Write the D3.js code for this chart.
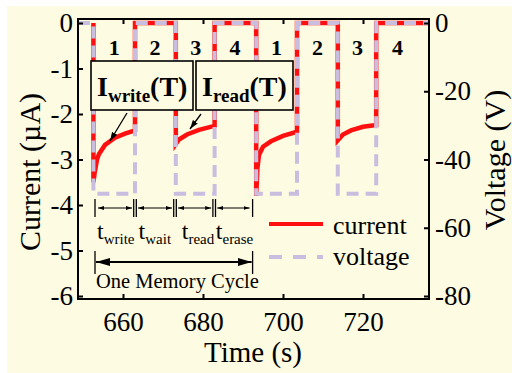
<!DOCTYPE html>
<html><head><meta charset="utf-8">
<script src="https://cdn.jsdelivr.net/npm/d3@7"></script>
<style>
html,body{margin:0;padding:0;background:#fff;}
svg{display:block;}
text{font-family:"Liberation Serif","Times New Roman",serif;fill:#000;}
</style></head><body>
<svg id="c" width="512" height="373"></svg>
<script>
// ---- data ----
const voltage = [
  [648.75,0],[652.6,0],[652.6,-50],[663,-50],[663,0],[673.2,0],[673.2,-50],[682.9,-50],[682.9,0],
  [693.3,0],[693.3,-50],[703.5,-50],[703.5,0],[713.7,0],[713.7,-50],[723.3,-50],[723.3,0],[736.5,0]
];
const current = [
  [652.6,0],[652.6,-3.5],[652.9,-3.3],[653.5,-3.0],[654,-2.88],[655.5,-2.68],[658,-2.52],[660.5,-2.43],[663,-2.36],
  [663,0],[673.2,0],[673.2,-2.66],[674,-2.56],[676,-2.45],[679,-2.35],[682.9,-2.26],
  [682.9,0],[693.3,0],[693.3,-3.8],[693.6,-3.2],[694,-2.9],[695,-2.72],[697,-2.6],[700,-2.48],[703.5,-2.39],
  [703.5,0],[713.7,0],[713.7,-2.58],[715,-2.45],[717,-2.36],[720,-2.28],[723.3,-2.24],
  [723.3,0],[736.5,0]
];
const xTicks = [660,680,700,720];
const yTicks = [0,-1,-2,-3,-4,-5,-6];
const vTicks = [0,-20,-40,-60,-80];
const phaseLabels = [["1",657.8],["2",668],["3",678.2],["4",688],["1",698.4],["2",708.6],["3",718.6],["4",728.6]];
const intervalMarks = [653,663,673,682.8,692.4];
const intervalNames = [["write",653.5],["wait",663.9],["read",674.7],["erase",683.2]];

// ---- layout ----
const svg = d3.select("#c");
const L=78,R=429,T=19,B=299;
const x = d3.scaleLinear().domain([648.75,736.5]).range([L,R]);
const y = d3.scaleLinear().domain([0,-6]).range([23,296]);
const yv = d3.scaleLinear().domain([0,-80]).range([23,296]);
const cream="#fdfbe1", red="#ff1010", lav="#c9bde0";

svg.append("rect").attr("x",7).attr("y",6).attr("width",505).attr("height",367).attr("fill",cream);

const plot = svg.append("g");
plot.append("path").datum(current)
  .attr("d",d3.line().x(d=>x(d[0])).y(d=>y(d[1])))
  .attr("fill","none").attr("stroke",red).attr("stroke-width",4.5).attr("stroke-linejoin","miter");
plot.append("path").datum(voltage)
  .attr("d",d3.line().x(d=>x(d[0])).y(d=>yv(d[1])))
  .attr("fill","none").attr("stroke",lav).attr("stroke-width",4).attr("stroke-dasharray","12,7");

// axes
const fs=27;
const gx = svg.append("g").attr("transform",`translate(0,${B})`)
  .call(d3.axisBottom(x).tickValues(xTicks).tickSizeInner(-5).tickSizeOuter(0).tickPadding(13));
const gxt = svg.append("g").attr("transform",`translate(0,${T})`)
  .call(d3.axisTop(x).tickValues(xTicks).tickSizeInner(-5).tickSizeOuter(0).tickFormat(""));
const gy = svg.append("g").attr("transform",`translate(${L},0)`)
  .call(d3.axisLeft(y).tickValues(yTicks).tickSizeInner(-5).tickSizeOuter(0).tickPadding(5).tickFormat(d=>d===0?"0":"-"+Math.abs(d)));
const gv = svg.append("g").attr("transform",`translate(${R},0)`)
  .call(d3.axisRight(yv).tickValues(vTicks).tickSizeInner(-5).tickSizeOuter(0).tickPadding(6).tickFormat(d=>d===0?"0":"-"+Math.abs(d)));
[gx,gxt,gy,gv].forEach(g=>{
  g.select(".domain").remove();
  g.selectAll(".tick line").attr("stroke","#000").attr("stroke-width",2);
  g.selectAll(".tick text").attr("font-family","Liberation Serif").attr("font-size",fs).attr("fill","#000");
});
svg.append("rect").attr("x",L).attr("y",T).attr("width",R-L).attr("height",B-T)
  .attr("fill","none").attr("stroke","#000").attr("stroke-width",2);

// axis titles
svg.append("text").attr("x",253).attr("y",362).attr("text-anchor","middle").attr("font-size",29).text("Time (s)");
svg.append("text").attr("transform","translate(40,172) rotate(-90)").attr("text-anchor","middle").attr("font-size",30).text("Current (µA)");
svg.append("text").attr("transform","translate(505,160) rotate(-90)").attr("text-anchor","middle").attr("font-size",30).text("Voltage (V)");

// phase numbers
svg.append("g").selectAll("text").data(phaseLabels).join("text")
  .attr("x",d=>x(d[1])).attr("y",55).attr("text-anchor","middle")
  .attr("font-size",22).attr("font-weight","bold").text(d=>d[0]);

// boxes
function box(x0,x1,sub){
  svg.append("rect").attr("x",x0).attr("y",61).attr("width",x1-x0).attr("height",49)
    .attr("fill",cream).attr("stroke","#000").attr("stroke-width",1.6);
  const t = svg.append("text").attr("x",x0+6).attr("y",96).attr("font-weight","bold").attr("font-size",28);
  t.append("tspan").text("I");
  t.append("tspan").attr("font-size",19).attr("dy",6).text(sub);
  t.append("tspan").attr("dy",-6).text("(T)");
}
box(91,193,"write");
box(196,293,"read");

// defs for arrows
const defs = svg.append("defs");
function marker(id,w,h){
  defs.append("marker").attr("id",id).attr("viewBox",`0 0 ${w} ${h}`).attr("refX",w).attr("refY",h/2)
    .attr("markerWidth",w).attr("markerHeight",h).attr("markerUnits","userSpaceOnUse").attr("orient","auto-start-reverse")
    .append("path").attr("d",`M0,0L${w},${h/2}L0,${h}Z`).attr("fill","#000");
}
marker("ah",9,6);
marker("as",6,4);
marker("al",14,8);

svg.append("line").attr("x1",127).attr("y1",113).attr("x2",110).attr("y2",141)
  .attr("stroke","#000").attr("stroke-width",1.3).attr("marker-end","url(#ah)");
svg.append("line").attr("x1",201).attr("y1",114).attr("x2",190).attr("y2",129)
  .attr("stroke","#000").attr("stroke-width",1.3).attr("marker-end","url(#ah)");

// interval markers
const im = svg.append("g");
intervalMarks.forEach((t,i)=>{
  const xs = (i===0||i===intervalMarks.length-1)?[x(t)]:[x(t)-1.3,x(t)+1.3];
  xs.forEach(xx=>im.append("line").attr("x1",xx).attr("x2",xx).attr("y1",199).attr("y2",217).attr("stroke","#000").attr("stroke-width",1.3));
  if(i<intervalMarks.length-1){
    im.append("line").attr("x1",x(t)+3).attr("x2",x(intervalMarks[i+1])-3).attr("y1",208).attr("y2",208)
      .attr("stroke","#000").attr("stroke-width",1.2).attr("marker-start","url(#as)").attr("marker-end","url(#as)");
  }
});
intervalNames.forEach(d=>{
  const t = svg.append("text").attr("x",x(d[1])).attr("y",239).attr("font-size",24);
  t.append("tspan").text("t");
  t.append("tspan").attr("font-size",15).attr("dy",5).text(d[0]);
});
// one memory cycle
[intervalMarks[0],intervalMarks[intervalMarks.length-1]].forEach(t=>{
  svg.append("line").attr("x1",x(t)).attr("x2",x(t)).attr("y1",251).attr("y2",274).attr("stroke","#000").attr("stroke-width",1.3);
});
svg.append("line").attr("x1",x(intervalMarks[0])+1).attr("x2",x(intervalMarks[intervalMarks.length-1])-1).attr("y1",262).attr("y2",262)
  .attr("stroke","#000").attr("stroke-width",2).attr("marker-start","url(#al)").attr("marker-end","url(#al)");
svg.append("text").attr("x",96).attr("y",288).attr("font-size",20.5).text("One Memory Cycle");

// legend
svg.append("line").attr("x1",269).attr("x2",323).attr("y1",224).attr("y2",224).attr("stroke",red).attr("stroke-width",4);
svg.append("text").attr("x",333).attr("y",234).attr("font-size",26).text("current");
svg.append("line").attr("x1",269).attr("x2",323).attr("y1",257).attr("y2",257).attr("stroke",lav).attr("stroke-width",4).attr("stroke-dasharray","13,11");
svg.append("text").attr("x",333).attr("y",265).attr("font-size",26).text("voltage");
</script>
</body></html>
